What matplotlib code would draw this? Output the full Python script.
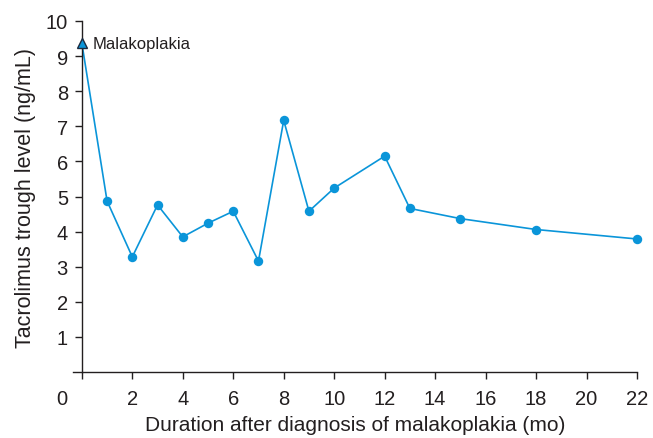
import matplotlib
matplotlib.use('Agg')
import matplotlib.pyplot as plt

#-----------------------------------------------------------
months=[0, 1, 2, 3, 4, 5, 6, 7, 8, 9, 10, 12, 13, 15, 18, 22]
level=[9.37, 4.87, 3.28, 4.76, 3.85, 4.24, 4.58, 3.16, 7.17, 4.58, 5.24, 6.15, 4.66, 4.37, 4.06, 3.79]
xticks=[2, 4, 6, 8, 10, 12, 14, 16, 18, 20, 22]
yticks=[1, 2, 3, 4, 5, 6, 7, 8, 9, 10]
c_line='#0a95d9'
c_txt='#231f20'

plt.rcParams['font.family']=['Liberation Sans', 'DejaVu Sans']

#-----------------------------------------------------------
fig=plt.figure(figsize=(6.53, 4.39), dpi=100)
ax=fig.add_axes([0.1118, 0.1503, 0.8637, 0.7996])

ax.plot(months, level, color=c_line, lw=1.2, zorder=2, clip_on=False)
ax.plot(months[1:], level[1:], 'o', color=c_line, ms=6.8, mec='none', zorder=3, clip_on=False)
ax.plot(months[:1], level[:1], '^', color=c_line, ms=7, mec='#1a2a40', mew=1.0, zorder=4, clip_on=False)
ax.annotate('Malakoplakia', xy=(months[0], level[0]), xytext=(11, 0), textcoords='offset pixels',
	fontsize=12, color=c_txt, va='center', ha='left')

#axes
ax.set_xlim(-0.35, 22)
ax.set_ylim(0, 10)
ax.spines['top'].set_visible(False)
ax.spines['right'].set_visible(False)
ax.spines['left'].set_position(('data', 0))
for s in ['left', 'bottom']:
	ax.spines[s].set_linewidth(1.0)
	ax.spines[s].set_color(c_txt)

ax.set_xticks([0]+xticks)
ax.set_xticklabels(['']+[str(i) for i in xticks])
ax.set_yticks(yticks)
ax.set_yticklabels([str(i) for i in yticks])
ax.tick_params(axis='both', length=5, width=1.0, color=c_txt, labelsize=14.5, labelcolor=c_txt, pad=5)
ax.tick_params(axis='x', pad=7)
ax.annotate('0', xy=(0, 0), xytext=(-20, -26), textcoords='offset pixels',
	fontsize=14.5, color=c_txt, ha='center', va='center', annotation_clip=False)

ax.set_xlabel('Duration after diagnosis of malakoplakia (mo)', fontsize=15, color=c_txt, labelpad=5)
ax.set_ylabel('Tacrolimus trough level (ng/mL)', fontsize=15.5, color=c_txt, labelpad=7)

plt.savefig('out.png', dpi=100)
plt.close()
